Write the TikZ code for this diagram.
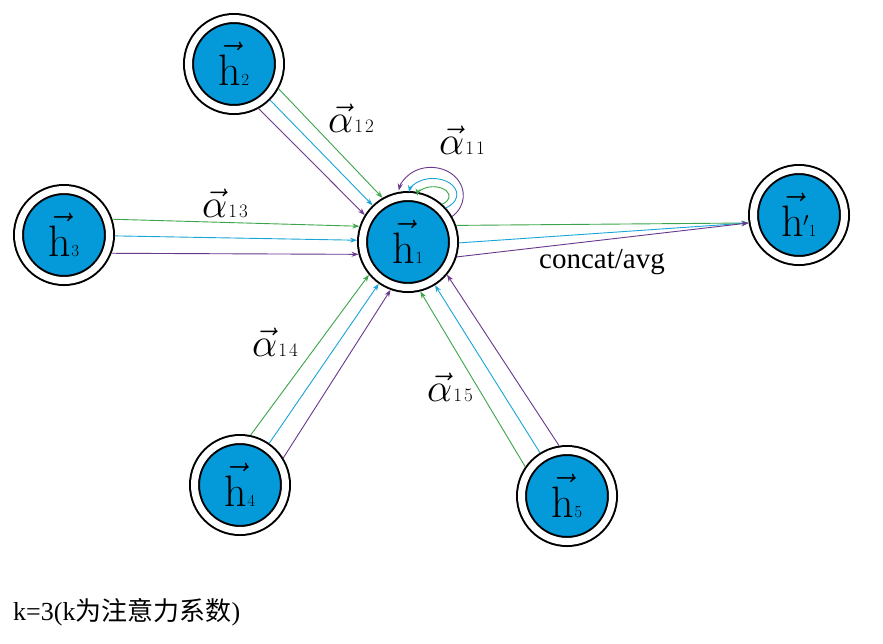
\RequirePackage{fix-cm}
\documentclass[tikz,border=0pt]{standalone}
\usepackage{fontspec}
\usetikzlibrary{arrows.meta}
\newfontfamily\cjkfont{Noto Sans CJK SC}
\newfontfamily\tnrfont{Liberation Serif}
\definecolor{nodeblue}{RGB}{4,154,218}
\definecolor{cgreen}{RGB}{60,165,75}
\definecolor{ccyan}{RGB}{25,165,215}
\definecolor{cpurple}{RGB}{105,55,140}
\newcommand{\hlab}[1]{{\fontsize{44}{44}\selectfont$\vec{\mathrm{h}}$}{\fontsize{17}{17}\selectfont #1}}
\newcommand{\alab}[1]{{\fontsize{40}{40}\selectfont$\vec{\alpha}$}\kern1pt{\fontsize{19}{19}\selectfont #1}}
\newcommand{\tripleedge}[5]{%
  \pgfmathtruncatemacro\myA{#3+#4}\pgfmathtruncatemacro\myB{#3}\pgfmathtruncatemacro\myC{#3-#4}%
  \pgfmathtruncatemacro\myD{#3+180-#5}\pgfmathtruncatemacro\myE{#3+180}\pgfmathtruncatemacro\myF{#3+180+#5}%
  \draw[eg] (#1.\myA) -- (#2.\myD);
  \draw[ec] (#1.\myB) -- (#2.\myE);
  \draw[ep] (#1.\myC) -- (#2.\myF);}
\tikzset{
  hnode/.style={circle, draw=black, line width=2pt, double=white, double distance=7pt,
    fill=nodeblue, minimum size=91pt, inner sep=0pt, outer sep=5.5pt},
  tip/.style={-{Stealth[length=7pt,width=5pt]}},
  eg/.style={draw=cgreen, line width=0.9pt, tip},
  ec/.style={draw=ccyan, line width=0.9pt, tip},
  ep/.style={draw=cpurple, line width=0.9pt, tip},
  lab/.style={inner sep=0pt}
}
\begin{document}
\begin{tikzpicture}[x=1pt,y=1pt]
\useasboundingbox[fill=white] (0,0) rectangle (883,-643);
\node[hnode] (h1) at (408,-242) {\hlab{1}};
\node[hnode] (h2) at (234,-64) {\hlab{2}};
\node[hnode] (h3) at (64,-235) {\hlab{3}};
\node[hnode] (h4) at (240,-485) {\hlab{4}};
\node[hnode] (h5) at (567,-496) {\hlab{5}};
\node[hnode] (hp) at (799,-215) {{\fontsize{44}{44}\selectfont$\vec{\mathrm{h}}$}\kern-1pt\raisebox{10pt}{\fontsize{20}{20}\selectfont$\prime$}{\fontsize{17}{17}\selectfont 1}};

\tripleedge{h2}{h1}{-45.65}{16}{14}
\tripleedge{h3}{h1}{-1.17}{20}{16}
\tripleedge{h4}{h1}{55.35}{23}{15}
\tripleedge{h5}{h1}{122.04}{23}{18}

\draw[eg] (h1.19) -- (hp.189);
\draw[ec] (h1.-1) -- (hp.189);
\draw[ep] (h1.-17) -- (hp.189);

\draw[ep] (h1.30) arc[start angle=-49, end angle=170, x radius=32.5, y radius=28];
\draw[ec] (h1.42) arc[start angle=-57, end angle=172, x radius=24, y radius=16];
\draw[eg] (h1.48) arc[start angle=-56, end angle=176, x radius=16, y radius=9.5];

\node[lab] (a12) at (351,-118) {\alab{1\kern2pt 2}};
\node[lab] (a11) at (462,-140) {\alab{1\kern2pt 1}};
\node[lab] (a13) at (225,-203) {\alab{1\kern2pt 3}};
\node[lab] (a14) at (275,-342) {\alab{1\kern2pt 4}};
\node[lab] (a15) at (450,-387) {\alab{1\kern2pt 5}};
\node[lab, anchor=base] (cat) at (602,-268) {\tnrfont\fontsize{29}{29}\selectfont concat/avg};
\node[lab, anchor=base west] (note) at (13,-620) {\fontsize{26}{26}\selectfont\tnrfont k=3(k{\cjkfont 为注意力系数})};
\end{tikzpicture}
\end{document}
